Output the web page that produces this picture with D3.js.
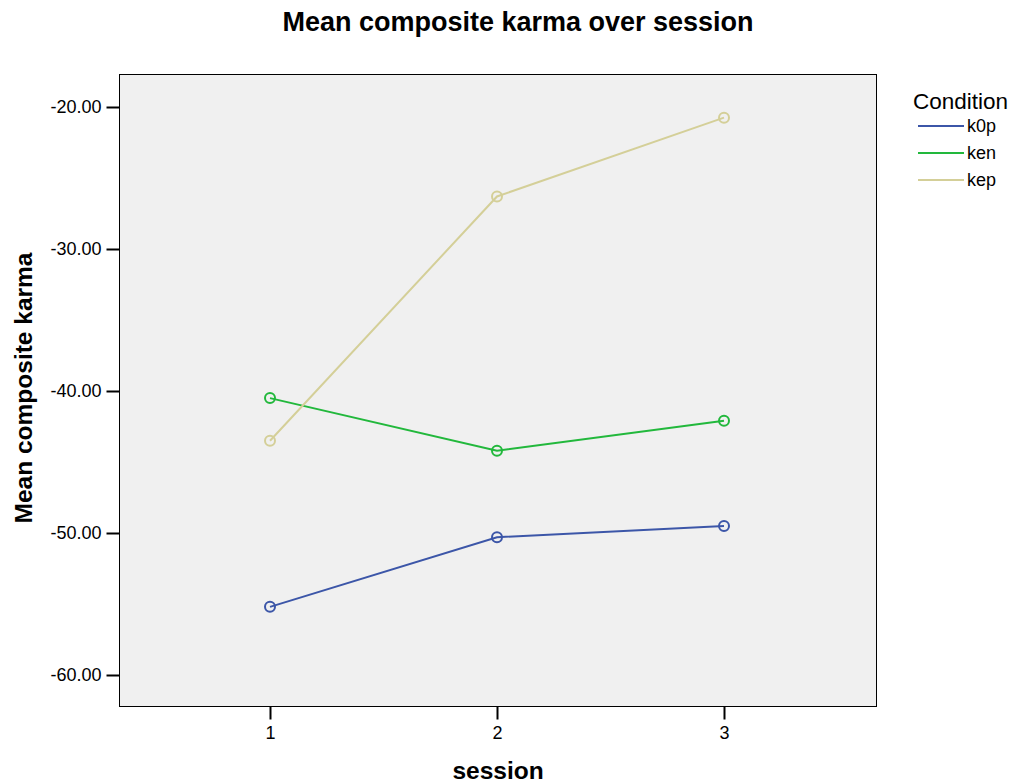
<!DOCTYPE html>
<html><head><meta charset="utf-8">
<script src="https://cdn.jsdelivr.net/npm/d3@7/dist/d3.min.js"></script>
<style>body{margin:0;background:#fff;font-family:Arial,"Liberation Sans",sans-serif;}</style>
</head><body>
<svg id="c" width="1013" height="784"></svg>
<script>
const sessions = [1, 2, 3];
const conditions = ["k0p", "ken", "kep"];
const k0p = [-55.2, -50.3, -49.5];
const ken = [-40.5, -44.2, -42.1];
const kep = [-43.5, -26.3, -20.75];
const yTicks = [-60, -50, -40, -30, -20];
const colors = ["#3c56a8", "#22b83c", "#d4cf98"];
const seriesValues = [k0p, ken, kep];
const FF = "Arial, 'Liberation Sans', sans-serif";

const svg = d3.select("#c");
const L = 119.5, R = 876.5, T = 74.5, B = 706.5;
const x = d3.scalePoint().domain(sessions).range([270, 724]);
const y = d3.scaleLinear().domain([-20, -60]).range([107, 675]);

svg.append("rect").attr("x", L).attr("y", T).attr("width", R - L).attr("height", B - T)
  .attr("fill", "#f0f0f0").attr("stroke", "#000").attr("stroke-width", 1);

const ya = svg.append("g").attr("transform", `translate(${L},0)`)
  .call(d3.axisLeft(y).tickValues(yTicks).tickFormat(d3.format(".2f")).tickSize(13).tickPadding(5));
ya.attr("font-size", null).attr("font-family", null);
ya.select(".domain").remove();
ya.selectAll("line").attr("stroke", "#000").attr("stroke-width", 2);
ya.selectAll("text").style("font-size", "18px").style("font-family", FF).attr("fill", "#000")
  .text(d => d3.format(".2f")(d).replace("−", "-"));

const xa = svg.append("g").attr("transform", `translate(0,${B})`)
  .call(d3.axisBottom(x).tickSize(13).tickPadding(7));
xa.attr("font-size", null).attr("font-family", null);
xa.select(".domain").remove();
xa.selectAll("line").attr("stroke", "#000").attr("stroke-width", 2);
xa.selectAll("text").style("font-size", "18px").style("font-family", FF).attr("fill", "#000");

const line = d3.line().x((d, i) => x(sessions[i])).y(d => y(d));
seriesValues.forEach((vals, k) => {
  svg.append("path").datum(vals).attr("d", line).attr("fill", "none")
    .attr("stroke", colors[k]).attr("stroke-width", 2);
  svg.selectAll(null).data(vals).enter().append("circle")
    .attr("cx", (d, i) => x(sessions[i])).attr("cy", d => y(d)).attr("r", 5)
    .attr("fill", "none").attr("stroke", colors[k]).attr("stroke-width", 2);
});

svg.append("text").attr("x", 518).attr("y", 31).attr("text-anchor", "middle")
  .style("font-size", "27px").style("font-weight", "bold").style("font-family", FF).text("Mean composite karma over session");
svg.append("text").attr("x", 498).attr("y", 779).attr("text-anchor", "middle")
  .style("font-size", "24.5px").style("font-weight", "bold").style("font-family", FF).text("session");
svg.append("text").attr("transform", "translate(32,388) rotate(-90)").attr("text-anchor", "middle")
  .style("font-size", "24.5px").style("font-weight", "bold").style("font-family", FF).text("Mean composite karma");

const lg = svg.append("g");
lg.append("text").attr("x", 913).attr("y", 109).style("font-size", "22.5px").style("font-family", FF).text("Condition");
conditions.forEach((c, i) => {
  const yy = 126 + i * 27;
  lg.append("line").attr("x1", 918).attr("x2", 964).attr("y1", yy).attr("y2", yy)
    .attr("stroke", colors[i]).attr("stroke-width", 2);
  lg.append("text").attr("x", 967).attr("y", yy + 6).style("font-size", "18px").style("font-family", FF).text(c);
});
</script>
</body></html>
